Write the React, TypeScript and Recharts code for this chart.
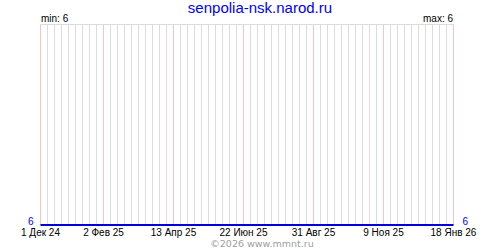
import { ComposedChart, Line, XAxis, YAxis, ReferenceLine } from "recharts";

// Days counted from 1 Dec 2024; one pixel per day in the reference.
const tickDays = [0, 63, 133, 203, 273, 343, 413];
const tickLabels = ["1 Дек 24", "2 Фев 25", "13 Апр 25", "22 Июн 25", "31 Авг 25", "9 Ноя 25", "18 Янв 26"];
const weekDays = [
  7, 14, 21, 28, 35, 42, 49, 56, 70, 77, 84, 91, 98, 105, 112, 119, 126, 140, 147, 154, 161, 168, 175, 182, 189, 196,
  210, 217, 224, 231, 238, 245, 252, 259, 266, 280, 287, 294, 301, 308, 315, 322, 329, 336, 350, 357, 364, 371, 378,
  385, 392, 399, 406,
];
const pointDays = [0, 63, 133, 203, 273, 343, 413];
const pointValues = [6, 6, 6, 6, 6, 6, 6];
const minValue = 6;
const maxValue = 6;

const data = pointDays.map((d, i) => ({ day: d, value: pointValues[i] }));
const labelByDay = new Map(tickDays.map((d, i) => [d, tickLabels[i]]));

const font = "'Liberation Sans', Arial, sans-serif";

// value label that sits just above the line, like the reference's blue "6"
const EdgeValue = ({ viewBox, value, side }: any) => {
  const x = side === "left" ? viewBox.x - 7 : viewBox.x + viewBox.width + 9;
  return (
    <text x={x} y={viewBox.y} textAnchor={side === "left" ? "end" : "start"} fontSize={10} fill="#0000ff" fontFamily={font}>
      {value}
    </text>
  );
};

export default function App() {
  return (
    <div style={{ position: "absolute", left: 0, top: 0, width: 500, height: 250, background: "#fff", fontFamily: font }}>
      <ComposedChart width={500} height={250} data={data} margin={{ top: 24.5, right: 46.5, bottom: 0, left: 0 }} style={{ position: "absolute", left: 0, top: 0 }}>
        <XAxis
          dataKey="day"
          type="number"
          domain={[0, 413]}
          ticks={tickDays}
          tickFormatter={(d: number) => labelByDay.get(d) ?? ""}
          axisLine={false}
          tickLine={false}
          tickSize={4}
          height={25}
          tickMargin={0}
          interval={0}
          tick={{ fontSize: 10, fill: "#000", fontFamily: font }}
        />
        <YAxis domain={[6, 7]} ticks={[6]} width={40.5} axisLine={false} tickLine={false} tick={false} />
        {weekDays.map((d) => (
          <ReferenceLine key={d} x={d} stroke="#dcdcdc" strokeWidth={1} />
        ))}
        {tickDays.map((d) => (
          <ReferenceLine key={"p" + d} x={d} stroke="#ffc0c0" strokeWidth={1} />
        ))}
        <ReferenceLine y={7} stroke="#dcdcdc" strokeWidth={1} />
        <ReferenceLine y={minValue} stroke="none" label={<EdgeValue value={minValue} side="left" />} />
        <ReferenceLine y={maxValue} stroke="none" label={<EdgeValue value={maxValue} side="right" />} />
        <Line dataKey="value" stroke="#0000dd" strokeWidth={2} dot={false} isAnimationActive={false} />
      </ComposedChart>
      <div style={{ position: "absolute", left: 0, width: 500, top: 0, textAlign: "center", color: "#0000ff", fontSize: 15, lineHeight: "16px", paddingLeft: 10 }}>
        senpolia-nsk.narod.ru
      </div>
      <div style={{ position: "absolute", left: 41, top: 13, fontSize: 10, color: "#000" }}>min: {minValue}</div>
      <div style={{ position: "absolute", right: 47, top: 13, fontSize: 10, color: "#000" }}>max: {maxValue}</div>
      <div style={{ position: "absolute", left: 0, width: 500, top: 238, lineHeight: "11px", textAlign: "center", fontSize: 9.5, fontFamily: "'DejaVu Sans', sans-serif", color: "#a0a0a0", paddingLeft: 12 }}>
        ©2026 www.mmnt.ru
      </div>
    </div>
  );
}
